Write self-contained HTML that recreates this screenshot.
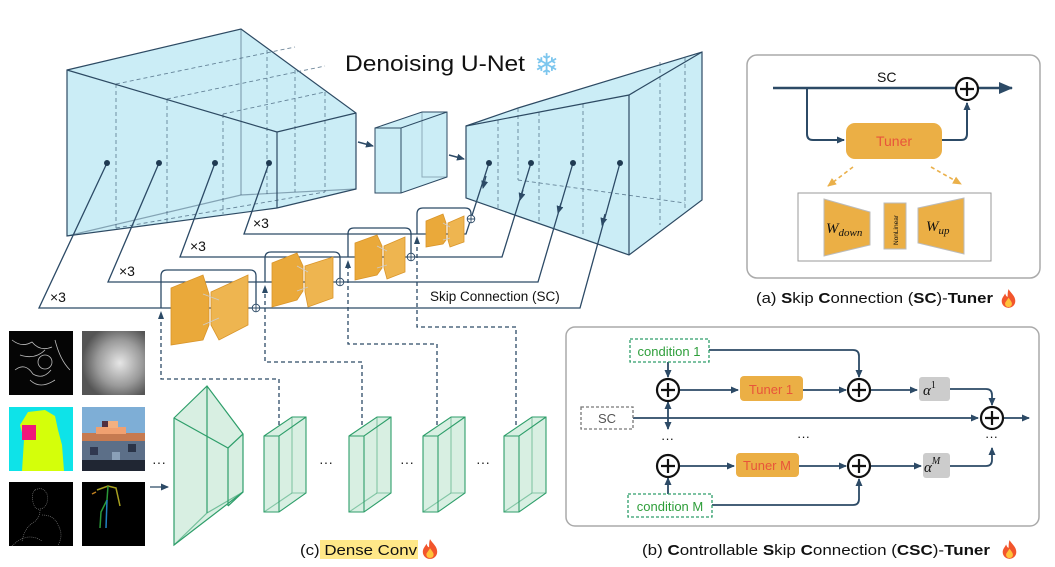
<!DOCTYPE html>
<html><head><meta charset="utf-8"><style>
html,body{margin:0;padding:0;background:#fff;}
svg{display:block;font-family:"Liberation Sans",sans-serif;}
</style></head><body>
<svg width="1055" height="567" viewBox="0 0 1055 567" xmlns="http://www.w3.org/2000/svg">
<defs>
<marker id="ah" markerWidth="8" markerHeight="8" refX="7" refY="4" orient="auto" markerUnits="userSpaceOnUse"><path d="M0,0.5 L8,4 L0,7.5 z" fill="#2c4a66"/></marker>
<marker id="ahb" markerWidth="14" markerHeight="12" refX="13" refY="6" orient="auto" markerUnits="userSpaceOnUse"><path d="M0,0 L14,6 L0,12 z" fill="#2c4a66"/></marker>
<marker id="aho" markerWidth="9" markerHeight="9" refX="8" refY="4.5" orient="auto" markerUnits="userSpaceOnUse"><path d="M0,0.5 L9,4.5 L0,8.5 z" fill="#eab04a"/></marker>
<radialGradient id="gg" cx="0.6" cy="0.5" r="0.6"><stop offset="0" stop-color="#e6e6e6"/><stop offset="0.6" stop-color="#9a9a9a"/><stop offset="1" stop-color="#555"/></radialGradient>
<symbol id="fire" viewBox="0 0 20 24"><path d="M10,1 C13,6 18,9 18,15 C18,20 14,23 10,23 C6,23 2,20 2,15 C2,11 5,9 6,6 C7,9 8,10 9,10 C9,7 9,4 10,1 z" fill="#f2552c"/><path d="M10,11 C12,14 14,16 14,18 C14,21 12,22 10,22 C8,22 6,21 6,18 C6,16 8,15 10,11 z" fill="#ffc23a"/></symbol>
</defs>

<!-- Encoder block -->
<g stroke="#2d4a63" stroke-width="1.2" fill="#cbedf6">
<polygon points="67,70 241,29 356,113 356,189 277,208 67,236"/>
</g>
<g stroke="#4c6a82" stroke-width="0.9" fill="none" stroke-dasharray="4,3" opacity="0.8">
<line x1="116" y1="84" x2="116" y2="228"/><line x1="167" y1="99" x2="167" y2="222"/><line x1="223" y1="114" x2="223" y2="214"/>
<line x1="267" y1="50" x2="267" y2="196"/><line x1="295" y1="70" x2="295" y2="192"/><line x1="325" y1="92" x2="325" y2="192"/>
<line x1="116" y1="84" x2="295" y2="47"/><line x1="167" y1="99" x2="325" y2="66"/><line x1="223" y1="114" x2="325" y2="92"/>
<line x1="116" y1="228" x2="325" y2="192"/>
</g>
<g stroke="#2d4a63" stroke-width="1.2" fill="none">
<line x1="67" y1="70" x2="277" y2="132"/><line x1="277" y1="132" x2="356" y2="113"/><line x1="277" y1="132" x2="277" y2="208"/>
<line x1="241" y1="29" x2="241" y2="195" stroke-opacity="0.45"/><polyline points="67,236 241,195 356,189" stroke-opacity="0.45"/>
</g>
<!-- middle block -->
<g stroke="#2d4a63" stroke-width="1" fill="#cbedf6">
<polygon points="375,128 422,112 447,112 447,177 401,193 375,193"/>
<polyline points="375,128 401,128 447,112" fill="none"/><line x1="401" y1="128" x2="401" y2="193"/>
<polyline points="422,112 422,177 447,177" fill="none" stroke-opacity="0.4"/>
</g>
<line x1="358" y1="142" x2="373" y2="146" stroke="#2c4a66" stroke-width="1.5" marker-end="url(#ah)"/>
<line x1="449" y1="155" x2="464" y2="159" stroke="#2c4a66" stroke-width="1.5" marker-end="url(#ah)"/>
<!-- decoder block -->
<g stroke="#2d4a63" stroke-width="1.2" fill="#cbedf6">
<polygon points="466,126 518,108 702,52 702,200 629,255 466,198"/>
</g>
<g stroke="#4c6a82" stroke-width="0.9" fill="none" stroke-dasharray="4,3" opacity="0.8">
<line x1="498" y1="120" x2="498" y2="208"/><line x1="539" y1="112" x2="539" y2="222"/><line x1="583" y1="104" x2="583" y2="236"/>
<line x1="518" y1="108" x2="518" y2="180"/><line x1="518" y1="180" x2="685" y2="203"/><line x1="660" y1="62" x2="660" y2="225"/><line x1="685" y1="57" x2="685" y2="210"/>
</g>
<g stroke="#2d4a63" stroke-width="1.2" fill="none">
<polyline points="466,126 629,95 702,52"/><line x1="629" y1="95" x2="629" y2="255"/>
</g>

<text x="345" y="71" font-size="22" fill="#111" textLength="180" lengthAdjust="spacingAndGlyphs">Denoising U-Net</text>
<text x="534" y="75" font-size="30" fill="#7cc6ee" font-family="DejaVu Sans,sans-serif">❄</text>

<!-- skip lines -->
<g stroke="#2c4a66" stroke-width="1.3" fill="none">
<polyline points="107,163 39,308 580,308 620,163"/>
<polyline points="159,163 108,282 538,282 573,163"/>
<polyline points="215,163 180,257 502,257 531,163"/>
<polyline points="269,163 244,234 466,234 489,163"/>
</g>
<g fill="#1f3a52"><circle cx="107" cy="163" r="3"/><circle cx="159" cy="163" r="3"/><circle cx="215" cy="163" r="3"/><circle cx="269" cy="163" r="3"/>
<circle cx="489" cy="163" r="3"/><circle cx="531" cy="163" r="3"/><circle cx="573" cy="163" r="3"/><circle cx="620" cy="163" r="3"/></g>
<g stroke="#2c4a66" stroke-width="1.3" fill="none">
<line x1="486" y1="176" x2="483" y2="188" marker-end="url(#ah)"/>
<line x1="523" y1="190" x2="520" y2="200" marker-end="url(#ah)"/>
<line x1="561" y1="203" x2="558" y2="213" marker-end="url(#ah)"/>
<line x1="605" y1="214" x2="602" y2="225" marker-end="url(#ah)"/>
</g>
<g font-size="14" fill="#111"><text x="50" y="302">×3</text><text x="119" y="276">×3</text><text x="190" y="251">×3</text><text x="253" y="228">×3</text></g>
<text x="430" y="301" font-size="13.5" fill="#111">Skip Connection (SC)</text>

<!-- brackets -->
<g stroke="#2c4a66" stroke-width="1.3" fill="none">
<path d="M161,308 V276 Q161,270 167,270 H250 Q256,270 256,276 V304"/>
<path d="M265,282 V258 Q265,252 271,252 H334 Q340,252 340,258 V278"/>
<path d="M348,257 V234 Q348,228 354,228 H405 Q411,228 411,234 V253"/>
<path d="M417,234 V214 Q417,208 423,208 H465 Q471,208 471,214 V215"/>
</g>
<g stroke="#2c4a66" stroke-width="0.9" fill="#fff">
<circle cx="256" cy="308" r="3.8"/><circle cx="340" cy="282" r="3.8"/><circle cx="411" cy="257" r="3.8"/><circle cx="471" cy="219" r="3.8"/>
<path d="M252.5,308 h7 M256,304.5 v7 M336.5,282 h7 M340,278.5 v7 M407.5,257 h7 M411,253.5 v7 M467.5,219 h7 M471,215.5 v7" fill="none"/>
</g>
<!-- orange modules -->
<g stroke="#d9952a" stroke-width="0.8">
<polygon points="171,288 203,275 209,294 209,325 203,340 171,345" fill="#eaa93a"/>
<polygon points="211,292 248,275 248,325 219,340 211,325" fill="#eeb550"/>
<polygon points="272,263 297,253 303,266 303,291 297,300 272,307" fill="#eaa93a"/>
<polygon points="305,266 333,257 333,298 308,307 305,292" fill="#eeb550"/>
<polygon points="355,243 377,235 382,246 382,268 377,275 355,280" fill="#eaa93a"/>
<polygon points="384,246 405,237 405,272 387,279 384,268" fill="#eeb550"/>
<polygon points="426,221 443,214 446,223 446,240 443,244 426,247" fill="#eaa93a"/>
<polygon points="448,223 464,216 464,242 450,247 448,240" fill="#eeb550"/>
</g>
<g stroke="#ccc" stroke-width="0.8" fill="none">
<path d="M203,294 L219,300 M203,325 L219,318 M297,266 L308,272 M297,291 L308,287 M377,246 L387,251 M377,268 L387,265 M443,223 L450,227 M443,240 L450,238"/>
</g>
<!-- dashed links -->
<g stroke="#2c4a66" stroke-width="1.3" fill="none" stroke-dasharray="4,3">
<polyline points="279,425 279,379 161,379 161,318"/>
<polyline points="362,425 362,362 265,362 265,292"/>
<polyline points="437,425 437,344 348,344 348,266"/>
<polyline points="516,425 516,327 417,327 417,240"/>
</g>
<g fill="#2c4a66"><path d="M161,311 l-3,8 h6 z"/><path d="M265,285 l-3,8 h6 z"/><path d="M348,260 l-3,8 h6 z"/><path d="M417,236 l-3,8 h6 z"/></g>

<!-- input images -->
<rect x="9" y="331" width="64" height="64" fill="#050505"/>
<g stroke="#bbb" stroke-width="0.8" fill="none"><circle cx="45" cy="362" r="7"/><path d="M12,340 q10,8 20,2 q8,10 20,5 M15,370 q10,-8 18,4 q10,6 18,-4 M30,380 q10,10 25,0 M55,340 q5,20 15,30 M20,355 q15,5 25,-5"/></g>
<rect x="82" y="331" width="63" height="64" fill="url(#gg)"/>
<rect x="9" y="407" width="64" height="64" fill="#0ee3e8"/>
<path d="M22,471 L24,440 L20,425 L28,412 L45,410 L55,416 L58,430 L62,445 L64,471 z" fill="#d4ff0a"/>
<rect x="22" y="425" width="14" height="15" fill="#f0187a"/>
<rect x="82" y="407" width="63" height="64" fill="#7eaed6"/>
<g><rect x="82" y="440" width="63" height="31" fill="#5c6f88"/><rect x="82" y="460" width="63" height="11" fill="#202633"/>
<rect x="82" y="433" width="63" height="8" fill="#c67a50"/><rect x="96" y="427" width="30" height="7" fill="#f0a070"/><rect x="108" y="421" width="10" height="7" fill="#f2b080"/><rect x="102" y="421" width="6" height="6" fill="#503040"/>
<rect x="90" y="447" width="8" height="8" fill="#303850"/><rect x="112" y="452" width="8" height="8" fill="#8aa0b8"/><rect x="128" y="444" width="8" height="8" fill="#2a3448"/></g>
<rect x="9" y="482" width="64" height="64" fill="#000"/>
<g stroke="#888" stroke-width="0.6" fill="none" stroke-dasharray="1,1"><path d="M35,490 q8,-4 12,4 q2,10 -4,14 q-8,4 -10,-6 q-2,-8 2,-12 M40,510 q0,8 -6,12 q-10,6 -12,20 M42,515 q12,0 16,10 q6,10 0,20 M12,546 q15,-15 30,-5"/></g>
<rect x="82" y="482" width="63" height="64" fill="#000"/>
<g stroke-width="1.5" fill="none"><path d="M97,490 L108,486 L116,488 L120,506" stroke="#a8a020"/><path d="M108,486 L107,500 L101,512 L100,528" stroke="#2a9a3a"/><path d="M107,500 L106,528" stroke="#2080c0"/><path d="M96,492 L92,494" stroke="#c08020"/></g>
<line x1="150" y1="487" x2="168" y2="487" stroke="#2c4a66" stroke-width="1.2" marker-end="url(#ah)"/>

<!-- green dense conv -->
<g stroke="#2e9e6a" stroke-width="1.2" fill="#d8efe2">
<polygon points="174,418 207,386 243,434 243,492 174,545"/>
<polyline points="174,418 228,448 243,434" fill="none"/><line x1="228" y1="448" x2="228" y2="506"/><line x1="207" y1="386" x2="207" y2="513"/>
<polyline points="174,545 207,513 243,492" fill="none" stroke-opacity="0.6"/><line x1="228" y1="506" x2="243" y2="492"/>
</g>
<g stroke="#2e9e6a" stroke-width="1.1" fill="#d8efe2">
<g id="tb"><polygon points="264,436 292,417 306,417 306,493 279,512 264,512"/><polyline points="264,436 279,436 306,417" fill="none"/><line x1="279" y1="436" x2="279" y2="512"/><polyline points="292,417 292,493 306,493" fill="none" stroke-opacity="0.5"/><polyline points="264,512 292,493" fill="none" stroke-opacity="0.5"/></g>
<use href="#tb" x="85"/><use href="#tb" x="159"/><use href="#tb" x="240"/>
</g>
<g font-size="14" fill="#222"><text x="152" y="467">···</text><text x="319" y="467">···</text><text x="400" y="467">···</text><text x="476" y="467">···</text></g>
<rect x="320" y="540" width="98" height="19" fill="#ffe888"/>
<text x="300" y="555" font-size="15" fill="#111" textLength="117" lengthAdjust="spacingAndGlyphs">(c) Dense Conv</text>
<use href="#fire" x="421" y="538" width="18" height="22"/>

<!-- panel a -->
<rect x="747" y="55" width="293" height="223" rx="10" fill="#fff" stroke="#aaa" stroke-width="1.5"/>
<text x="877" y="82" font-size="14" fill="#111">SC</text>
<line x1="773" y1="88" x2="1012" y2="88" stroke="#2c4a66" stroke-width="2.4" marker-end="url(#ahb)"/>
<path d="M807,88 V134 Q807,140 813,140 H844" stroke="#2c4a66" stroke-width="2" fill="none" marker-end="url(#ah)"/>
<path d="M942,140 H961 Q967,140 967,134 V103" stroke="#2c4a66" stroke-width="2" fill="none" marker-end="url(#ah)"/>
<circle cx="967" cy="89" r="11" fill="#fff" stroke="#111" stroke-width="2.2"/><path d="M960,89 h14 M967,82 v14" stroke="#111" stroke-width="2.2"/>
<rect x="846" y="123" width="96" height="36" rx="9" fill="#ebaf45"/>
<text x="894" y="146" font-size="14" fill="#e8553a" text-anchor="middle">Tuner</text>
<line x1="853" y1="167" x2="828" y2="186" stroke="#eab04a" stroke-width="1.6" stroke-dasharray="4,3" marker-end="url(#aho)"/>
<line x1="931" y1="167" x2="961" y2="184" stroke="#eab04a" stroke-width="1.6" stroke-dasharray="4,3" marker-end="url(#aho)"/>
<rect x="798" y="193" width="193" height="68" fill="#fff" stroke="#999" stroke-width="1"/>
<polygon points="824,199 870,212 870,245 824,256" fill="#ebaf45" stroke="#bbb"/>
<rect x="884" y="203" width="22" height="46" fill="#ebaf45" stroke="#bbb"/>
<polygon points="918,208 964,198 964,254 918,243" fill="#ebaf45" stroke="#bbb"/>
<text x="826" y="233" font-size="15" font-style="italic" font-family="Liberation Serif,serif" fill="#111">W<tspan font-size="11" dy="3">down</tspan></text>
<text x="926" y="231" font-size="15" font-style="italic" font-family="Liberation Serif,serif" fill="#111">W<tspan font-size="11" dy="3">up</tspan></text>
<text transform="translate(898,245) rotate(-90)" font-size="6.5" fill="#111">NonLinear</text>
<text x="756" y="303" font-size="15" fill="#111" textLength="237" lengthAdjust="spacingAndGlyphs">(a) <tspan font-weight="bold">S</tspan>kip <tspan font-weight="bold">C</tspan>onnection (<tspan font-weight="bold">SC</tspan>)-<tspan font-weight="bold">Tuner</tspan></text>
<use href="#fire" x="1000" y="288" width="17" height="21"/>

<!-- panel b -->
<rect x="566" y="327" width="473" height="199" rx="9" fill="#fff" stroke="#aaa" stroke-width="1.5"/>
<g stroke="#2c4a66" stroke-width="1.8" fill="none">
<line x1="633" y1="418" x2="978" y2="418" marker-end="url(#ah)"/>
<line x1="1004" y1="418" x2="1029" y2="418" marker-end="url(#ah)"/>
<line x1="668" y1="362" x2="668" y2="377" marker-end="url(#ah)"/>
<line x1="668" y1="410" x2="668" y2="402" marker-end="url(#ah)"/>
<line x1="668" y1="410" x2="668" y2="429" marker-end="url(#ah)"/>
<line x1="668" y1="494" x2="668" y2="478" marker-end="url(#ah)"/>
<line x1="680" y1="390" x2="738" y2="390" marker-end="url(#ah)"/>
<line x1="803" y1="390" x2="846" y2="390" marker-end="url(#ah)"/>
<line x1="871" y1="390" x2="917" y2="390" marker-end="url(#ah)"/>
<line x1="680" y1="466" x2="734" y2="466" marker-end="url(#ah)"/>
<line x1="799" y1="466" x2="846" y2="466" marker-end="url(#ah)"/>
<line x1="871" y1="466" x2="921" y2="466" marker-end="url(#ah)"/>
<path d="M709,350 H853 Q859,350 859,356 V377" marker-end="url(#ah)"/>
<path d="M712,505 H853 Q859,505 859,499 V479" marker-end="url(#ah)"/>
<path d="M950,389 H986 Q992,389 992,395 V405" marker-end="url(#ah)"/>
<path d="M950,466 H986 Q992,466 992,460 V448" marker-end="url(#ah)"/>
</g>
<g fill="#fff" stroke="#111" stroke-width="2.2">
<circle cx="668" cy="390" r="11"/><circle cx="859" cy="390" r="11"/><circle cx="992" cy="418" r="11"/><circle cx="668" cy="466" r="11"/><circle cx="859" cy="466" r="11"/>
<path d="M661,390 h14 M668,383 v14 M852,390 h14 M859,383 v14 M985,418 h14 M992,411 v14 M661,466 h14 M668,459 v14 M852,466 h14 M859,459 v14" fill="none"/>
</g>
<rect x="630" y="339" width="79" height="23" fill="#fff" stroke="#2e9e6a" stroke-width="1.3" stroke-dasharray="3,2"/>
<text x="669" y="356" font-size="13" fill="#2e9e3a" text-anchor="middle">condition 1</text>
<rect x="628" y="494" width="84" height="23" fill="#fff" stroke="#2e9e6a" stroke-width="1.3" stroke-dasharray="3,2"/>
<text x="670" y="511" font-size="13" fill="#2e9e3a" text-anchor="middle">condition M</text>
<rect x="581" y="407" width="52" height="22" fill="#fff" stroke="#777" stroke-width="1.3" stroke-dasharray="3,2"/>
<text x="607" y="423" font-size="13" fill="#555" text-anchor="middle">SC</text>
<rect x="740" y="376" width="63" height="25" rx="4" fill="#ebaf45"/><text x="771" y="394" font-size="13" fill="#e8553a" text-anchor="middle">Tuner 1</text>
<rect x="736" y="453" width="63" height="24" rx="4" fill="#ebaf45"/><text x="767" y="470" font-size="13" fill="#e8553a" text-anchor="middle">Tuner M</text>
<rect x="919" y="377" width="31" height="24" rx="3" fill="#ccc"/><text x="923" y="395" font-size="15" font-style="italic" font-family="Liberation Serif,serif" fill="#111">α<tspan font-size="10" dy="-7" font-style="normal">1</tspan></text>
<rect x="923" y="453" width="27" height="25" rx="3" fill="#ccc"/><text x="924" y="472" font-size="15" font-style="italic" font-family="Liberation Serif,serif" fill="#111">α<tspan font-size="10" dy="-8">M</tspan></text>
<g font-size="13" fill="#111"><text x="661" y="443">···</text><text x="797" y="441">···</text><text x="985" y="441">···</text></g>
<text x="642" y="555" font-size="15" fill="#111" textLength="348" lengthAdjust="spacingAndGlyphs">(b) <tspan font-weight="bold">C</tspan>ontrollable <tspan font-weight="bold">S</tspan>kip <tspan font-weight="bold">C</tspan>onnection (<tspan font-weight="bold">CSC</tspan>)-<tspan font-weight="bold">Tuner</tspan></text>
<use href="#fire" x="1001" y="539" width="17" height="21"/>
</svg>
</body></html>
